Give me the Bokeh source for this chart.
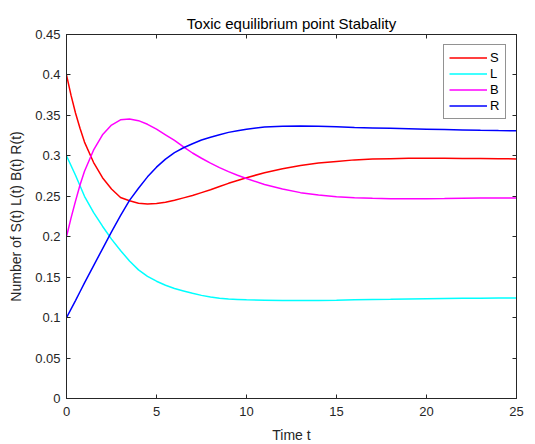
from bokeh.plotting import figure
from bokeh.models import Range1d, LinearAxis, FixedTicker, Legend, LegendItem
from bokeh.embed import file_html
from bokeh.resources import INLINE

# time samples
t = [0, 0.25, 0.5, 0.75, 1, 1.5, 2, 2.5, 3, 3.5, 4, 4.5, 5, 5.5, 6, 6.5, 7, 7.5, 8, 8.5, 9, 9.5, 10,
     11, 12, 13, 14, 15, 16, 17, 18, 19, 20, 21, 22, 23, 24, 25]

S = [0.400, 0.375, 0.353, 0.334, 0.317, 0.292, 0.273, 0.259, 0.2485, 0.2445, 0.2415, 0.2405, 0.241, 0.2425, 0.245, 0.248,
     0.251, 0.2545, 0.258, 0.262, 0.266, 0.2695, 0.273, 0.279, 0.284, 0.288, 0.291, 0.293, 0.295, 0.296, 0.2965, 0.297, 0.297,
     0.297, 0.2968, 0.2966, 0.2964, 0.2962]

L = [0.300, 0.288, 0.276, 0.263, 0.250, 0.230, 0.213, 0.197, 0.183, 0.170, 0.159, 0.151, 0.145, 0.140, 0.136, 0.133,
     0.130, 0.1275, 0.1255, 0.124, 0.123, 0.1225, 0.122, 0.1215, 0.121, 0.121, 0.1212, 0.1215, 0.122, 0.1223, 0.1226, 0.123, 0.1233,
     0.1236, 0.1238, 0.124, 0.1242, 0.1243]

B = [0.200, 0.223, 0.244, 0.264, 0.281, 0.307, 0.326, 0.338, 0.3445, 0.3455, 0.3435, 0.339, 0.333, 0.326, 0.319, 0.311,
     0.3035, 0.297, 0.291, 0.2855, 0.2805, 0.276, 0.272, 0.2645, 0.259, 0.2545, 0.2515, 0.2495, 0.2482, 0.2475, 0.247, 0.247, 0.247,
     0.2472, 0.2475, 0.2478, 0.248, 0.248]

R = [0.100, 0.1105, 0.121, 0.132, 0.143, 0.164, 0.185, 0.206, 0.226, 0.245, 0.260, 0.274, 0.286, 0.296, 0.304, 0.310,
     0.315, 0.3195, 0.323, 0.326, 0.329, 0.331, 0.333, 0.3355, 0.3365, 0.337, 0.3365, 0.336, 0.335, 0.3345, 0.334, 0.3335, 0.333,
     0.3325, 0.332, 0.3315, 0.3312, 0.331]

series_names = ["S", "L", "B", "R"]
series_colors = ["#ff0000", "#00ffff", "#ff00ff", "#0000ff"]

x_ticks = [0, 5, 10, 15, 20, 25]
y_ticks = [0, 0.05, 0.1, 0.15, 0.2, 0.25, 0.3, 0.35, 0.4, 0.45]
y_tick_labels = ["0", "0.05", "0.1", "0.15", "0.2", "0.25", "0.3", "0.35", "0.4", "0.45"]

FONT = "Liberation Sans"
AX = "#262626"

p = figure(width=535, height=444, output_backend="svg", toolbar_location=None,
           x_range=Range1d(0, 25), y_range=Range1d(0, 0.45),
           title="Toxic equilibrium point Stabality")
p.min_border_left = 66
p.min_border_right = 19
p.min_border_top = 34
p.min_border_bottom = 46
p.frame_width = 450
p.frame_height = 364

p.title.text_font = FONT
p.title.text_font_size = "15px"
p.title.text_font_style = "normal"
p.title.text_color = "#000000"
p.title.align = "center"
p.title.standoff = 6

p.xgrid.visible = False
p.ygrid.visible = False
p.outline_line_color = AX
p.outline_line_width = 1
p.background_fill_color = "white"
p.border_fill_color = "white"

for ax in p.xaxis:
    ax.ticker = FixedTicker(ticks=x_ticks)
    ax.axis_label = "Time t"
for ax in p.yaxis:
    ax.ticker = FixedTicker(ticks=y_ticks)
    ax.major_label_overrides = {v: s for v, s in zip(y_ticks, y_tick_labels)}
    ax.axis_label = "Number of S(t) L(t) B(t) R(t)"

for ax in list(p.xaxis) + list(p.yaxis):
    ax.major_tick_in = 4
    ax.major_tick_out = 0
    ax.minor_tick_line_color = None
    ax.axis_line_color = AX
    ax.major_tick_line_color = AX
    ax.major_label_text_font = FONT
    ax.major_label_text_font_size = "13px"
    ax.major_label_text_color = AX
    ax.axis_label_text_font = FONT
    ax.axis_label_text_font_size = "14px"
    ax.axis_label_text_font_style = "normal"
    ax.axis_label_text_color = AX
p.xaxis.major_label_standoff = 8
p.xaxis.axis_label_standoff = 8
p.yaxis.major_label_standoff = 6
p.yaxis.axis_label_standoff = 8

# mirrored axes (ticks only, no labels) on top and right
top = LinearAxis(ticker=FixedTicker(ticks=x_ticks),
                 major_label_overrides={v: "" for v in x_ticks},
                 major_tick_in=4, major_tick_out=0, minor_tick_line_color=None,
                 axis_line_color=AX, major_tick_line_color=AX, major_label_standoff=0)
right = LinearAxis(ticker=FixedTicker(ticks=y_ticks),
                   major_label_overrides={v: "" for v in y_ticks},
                   major_tick_in=4, major_tick_out=0, minor_tick_line_color=None,
                   axis_line_color=AX, major_tick_line_color=AX, major_label_standoff=0)
p.add_layout(top, "above")
p.add_layout(right, "right")

items = []
for name, vals, col in zip(series_names, [S, L, B, R], series_colors):
    r = p.line(t, vals, line_color=col, line_width=1.5)
    items.append(LegendItem(label=name, renderers=[r]))

legend = Legend(items=items, location="top_right")
legend.margin = 10
legend.padding = 5
legend.spacing = 1
legend.glyph_width = 38
legend.glyph_height = 15
legend.label_height = 15
legend.label_width = 10
legend.label_standoff = 3
legend.label_text_font = FONT
legend.label_text_font_size = "13px"
legend.label_text_color = "#000000"
legend.border_line_color = AX
legend.border_line_width = 1
legend.background_fill_color = "white"
legend.background_fill_alpha = 1.0
p.add_layout(legend, "center")

open("out.html", "w").write(file_html(p, INLINE))
